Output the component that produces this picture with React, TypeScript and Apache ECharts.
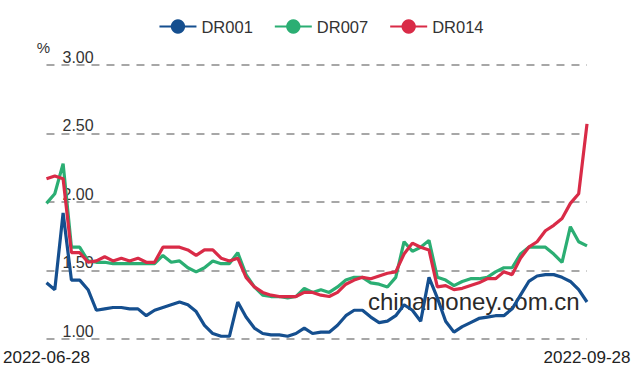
import React, { useEffect, useRef } from "react";
import * as echarts from "echarts";

const dates = [
  "2022-06-28", "2022-06-29", "2022-06-30",
  "2022-07-01", "2022-07-04", "2022-07-05", "2022-07-06", "2022-07-07", "2022-07-08",
  "2022-07-11", "2022-07-12", "2022-07-13", "2022-07-14", "2022-07-15",
  "2022-07-18", "2022-07-19", "2022-07-20", "2022-07-21", "2022-07-22",
  "2022-07-25", "2022-07-26", "2022-07-27", "2022-07-28", "2022-07-29",
  "2022-08-01", "2022-08-02", "2022-08-03", "2022-08-04", "2022-08-05",
  "2022-08-08", "2022-08-09", "2022-08-10", "2022-08-11", "2022-08-12",
  "2022-08-15", "2022-08-16", "2022-08-17", "2022-08-18", "2022-08-19",
  "2022-08-22", "2022-08-23", "2022-08-24", "2022-08-25", "2022-08-26",
  "2022-08-29", "2022-08-30", "2022-08-31",
  "2022-09-01", "2022-09-02", "2022-09-05", "2022-09-06", "2022-09-07", "2022-09-08", "2022-09-09",
  "2022-09-13", "2022-09-14", "2022-09-15", "2022-09-16",
  "2022-09-19", "2022-09-20", "2022-09-21", "2022-09-22", "2022-09-23",
  "2022-09-26", "2022-09-27", "2022-09-28",
];

const dr001 = [
  1.41, 1.36, 1.92, 1.43, 1.43, 1.36, 1.21, 1.22, 1.23, 1.23,
  1.22, 1.22, 1.17, 1.21, 1.23, 1.25, 1.27, 1.25, 1.20, 1.10,
  1.04, 1.02, 1.02, 1.27, 1.16, 1.08, 1.04, 1.03, 1.03, 1.02,
  1.04, 1.08, 1.04, 1.05, 1.05, 1.10, 1.17, 1.21, 1.21, 1.16,
  1.12, 1.13, 1.17, 1.25, 1.21, 1.13, 1.45, 1.30, 1.13, 1.05,
  1.09, 1.12, 1.15, 1.16, 1.17, 1.17, 1.22, 1.32, 1.42, 1.46,
  1.47, 1.47, 1.45, 1.42, 1.36, 1.27,
];

const dr007 = [
  1.99, 2.06, 2.28, 1.67, 1.67, 1.57, 1.56, 1.56, 1.55, 1.55,
  1.55, 1.55, 1.55, 1.55, 1.61, 1.56, 1.57, 1.52, 1.49, 1.52,
  1.57, 1.55, 1.55, 1.63, 1.47, 1.38, 1.32, 1.31, 1.31, 1.30,
  1.31, 1.37, 1.34, 1.36, 1.34, 1.38, 1.43, 1.45, 1.45, 1.41,
  1.40, 1.38, 1.45, 1.71, 1.64, 1.67, 1.72, 1.45, 1.43, 1.39,
  1.42, 1.44, 1.44, 1.45, 1.49, 1.52, 1.52, 1.62, 1.67, 1.67,
  1.67, 1.62, 1.56, 1.82, 1.71, 1.68,
];

const dr014 = [
  2.17, 2.19, 2.17, 1.63, 1.63, 1.56, 1.57, 1.60, 1.57, 1.59,
  1.57, 1.59, 1.56, 1.56, 1.67, 1.67, 1.67, 1.65, 1.61, 1.65,
  1.65, 1.59, 1.57, 1.59, 1.45, 1.38, 1.34, 1.32, 1.31, 1.31,
  1.31, 1.34, 1.34, 1.32, 1.31, 1.34, 1.40, 1.43, 1.45, 1.44,
  1.46, 1.48, 1.49, 1.62, 1.70, 1.67, 1.65, 1.38, 1.39, 1.36,
  1.37, 1.39, 1.41, 1.44, 1.44, 1.49, 1.47, 1.59, 1.67, 1.71,
  1.79, 1.83, 1.88, 1.99, 2.06, 2.57,
];

const seriesNames = ["DR001", "DR007", "DR014"];
const seriesColors = ["#154f8f", "#2bae73", "#d92b47"];
const watermark = "chinamoney.com.cn";

export default function App() {
  const ref = useRef<HTMLDivElement>(null);
  useEffect(() => {
    if (!ref.current) return;
    const chart = echarts.init(ref.current, undefined, { renderer: "svg" });
    const last = dates.length - 1;
    const values = [dr001, dr007, dr014];
    chart.setOption({
      animation: false,
      textStyle: { fontFamily: "Liberation Sans, Arial, sans-serif" },
      legend: {
        top: 13,
        left: "center",
        itemWidth: 37,
        itemHeight: 18,
        itemGap: 21,
        textStyle: { fontSize: 16.5, color: "#333" },
        data: seriesNames,
      },
      grid: { left: 44, right: 55, top: 65, bottom: 33 },
      xAxis: {
        type: "category",
        data: dates,
        boundaryGap: false,
        axisLine: { show: false },
        axisTick: { show: false },
        axisLabel: {
          interval: (i: number) => i === 0 || i === last,
          fontSize: 17,
          color: "#222",
          margin: 10,
        },
      },
      yAxis: {
        type: "value",
        min: 1,
        max: 3,
        interval: 0.5,
        name: "%",
        nameLocation: "end",
        nameGap: 10,
        nameTextStyle: { fontSize: 15, color: "#333", padding: [0, 6, 0, 0] },
        axisLine: { show: false },
        axisTick: { show: false },
        axisLabel: {
          inside: true,
          margin: 16,
          verticalAlign: "bottom",
          fontSize: 16,
          color: "#333",
          formatter: (v: number) => v.toFixed(2),
        },
        splitLine: { lineStyle: { type: [8, 7], color: "#8a8a8a", width: 1.5 } },
      },
      graphic: [
        {
          type: "text",
          left: 368,
          top: 289,
          z: 1,
          style: { text: watermark, fontSize: 24, fill: "#2a2a2a", fontFamily: "Liberation Sans, Arial, sans-serif" },
        },
      ],
      series: seriesNames.map((name, k) => ({
        name,
        type: "line",
        data: values[k],
        symbol: "circle",
        showSymbol: false,
        color: seriesColors[k],
        lineStyle: { width: 3.2, color: seriesColors[k] },
        z: 3,
      })),
    });
    return () => chart.dispose();
  }, []);
  return (
    <div
      ref={ref}
      style={{ position: "fixed", left: 0, top: 0, width: 642, height: 372, background: "#fff" }}
    />
  );
}
